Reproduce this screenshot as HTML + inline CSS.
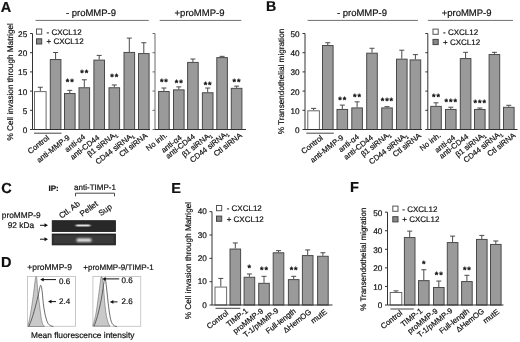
<!DOCTYPE html>
<html><head><meta charset="utf-8"><style>
html,body{margin:0;padding:0;background:#fff;}
svg{display:block;font-family:"Liberation Sans", sans-serif;will-change:transform;filter:blur(0.3px);}
text{stroke:#111;stroke-width:0.2px;text-rendering:geometricPrecision;}
</style></head><body>
<svg width="520" height="342" viewBox="0 0 520 342">
<rect width="520" height="342" fill="#fff"/>
<text x="0.8" y="11.6" font-size="14.5" text-anchor="start" font-weight="bold" fill="#111">A</text>
<line x1="32.5" y1="33.5" x2="32.5" y2="129.5" stroke="#333" stroke-width="1"/>
<line x1="30.0" y1="129.5" x2="32.5" y2="129.5" stroke="#333" stroke-width="1"/>
<text x="27.2" y="132.9" font-size="8.2" text-anchor="end" font-weight="normal" fill="#111">0</text>
<line x1="30.0" y1="110.3" x2="32.5" y2="110.3" stroke="#333" stroke-width="1"/>
<text x="27.2" y="113.7" font-size="8.2" text-anchor="end" font-weight="normal" fill="#111">5</text>
<line x1="30.0" y1="91.1" x2="32.5" y2="91.1" stroke="#333" stroke-width="1"/>
<text x="27.2" y="94.5" font-size="8.2" text-anchor="end" font-weight="normal" fill="#111">10</text>
<line x1="30.0" y1="71.9" x2="32.5" y2="71.9" stroke="#333" stroke-width="1"/>
<text x="27.2" y="75.3" font-size="8.2" text-anchor="end" font-weight="normal" fill="#111">15</text>
<line x1="30.0" y1="52.7" x2="32.5" y2="52.7" stroke="#333" stroke-width="1"/>
<text x="27.2" y="56.1" font-size="8.2" text-anchor="end" font-weight="normal" fill="#111">20</text>
<line x1="30.0" y1="33.5" x2="32.5" y2="33.5" stroke="#333" stroke-width="1"/>
<text x="27.2" y="36.9" font-size="8.2" text-anchor="end" font-weight="normal" fill="#111">25</text>
<text x="13.2" y="81.8" font-size="8.2" text-anchor="middle" font-weight="normal" fill="#111" transform="rotate(-90 13.2 81.8)">% Cell invasion through Matrigel</text>
<rect x="36.5" y="29.0" width="5.2" height="5.2" fill="#fff" stroke="#555" stroke-width="1"/>
<rect x="36.5" y="38.8" width="5.2" height="5.2" fill="#888" stroke="#444" stroke-width="1"/>
<text x="46.5" y="34.5" font-size="8" text-anchor="start" font-weight="normal" fill="#111">- CXCL12</text>
<text x="46.5" y="44.3" font-size="8" text-anchor="start" font-weight="normal" fill="#111">+ CXCL12</text>
<line x1="35.5" y1="20.4" x2="148.8" y2="20.4" stroke="#707070" stroke-width="1"/>
<line x1="159.7" y1="20.4" x2="241.3" y2="20.4" stroke="#707070" stroke-width="1"/>
<text x="91" y="15.8" font-size="9.5" text-anchor="middle" font-weight="normal" fill="#111">- proMMP-9</text>
<text x="199.5" y="15.8" font-size="9.5" text-anchor="middle" font-weight="normal" fill="#111">+proMMP-9</text>
<line x1="40.3" y1="87.26" x2="40.3" y2="91.1" stroke="#4a4a4a" stroke-width="1"/>
<line x1="37.8" y1="87.26" x2="42.8" y2="87.26" stroke="#4a4a4a" stroke-width="1"/>
<rect x="34.5" y="91.6" width="11.6" height="37.9" fill="#ffffff" stroke="#6a6a6a" stroke-width="1"/>
<line x1="55.6" y1="52.51" x2="55.6" y2="59.04" stroke="#4a4a4a" stroke-width="1"/>
<line x1="53.1" y1="52.51" x2="58.1" y2="52.51" stroke="#4a4a4a" stroke-width="1"/>
<rect x="50.3" y="59.54" width="10.6" height="69.96" fill="#9a9a9a" stroke="#4a4a4a" stroke-width="1"/>
<line x1="69.8" y1="90.33" x2="69.8" y2="93.02" stroke="#4a4a4a" stroke-width="1"/>
<line x1="67.3" y1="90.33" x2="72.3" y2="90.33" stroke="#4a4a4a" stroke-width="1"/>
<rect x="64.5" y="93.52" width="10.6" height="35.98" fill="#9a9a9a" stroke="#4a4a4a" stroke-width="1"/>
<text x="70.2" y="85.2" font-size="9" text-anchor="middle" font-weight="bold" fill="#111" letter-spacing="0.9">**</text>
<line x1="84.3" y1="79.77" x2="84.3" y2="87.26" stroke="#4a4a4a" stroke-width="1"/>
<line x1="81.8" y1="79.77" x2="86.8" y2="79.77" stroke="#4a4a4a" stroke-width="1"/>
<rect x="79.0" y="87.76" width="10.6" height="41.74" fill="#9a9a9a" stroke="#4a4a4a" stroke-width="1"/>
<text x="84.7" y="75.7" font-size="9" text-anchor="middle" font-weight="bold" fill="#111" letter-spacing="0.9">**</text>
<line x1="99.2" y1="55.39" x2="99.2" y2="59.61" stroke="#4a4a4a" stroke-width="1"/>
<line x1="96.7" y1="55.39" x2="101.7" y2="55.39" stroke="#4a4a4a" stroke-width="1"/>
<rect x="93.9" y="60.11" width="10.6" height="69.39" fill="#9a9a9a" stroke="#4a4a4a" stroke-width="1"/>
<line x1="114.3" y1="84.96" x2="114.3" y2="87.26" stroke="#4a4a4a" stroke-width="1"/>
<line x1="111.8" y1="84.96" x2="116.8" y2="84.96" stroke="#4a4a4a" stroke-width="1"/>
<rect x="109.0" y="87.76" width="10.6" height="41.74" fill="#9a9a9a" stroke="#4a4a4a" stroke-width="1"/>
<text x="114.7" y="80.2" font-size="9" text-anchor="middle" font-weight="bold" fill="#111" letter-spacing="0.9">**</text>
<line x1="129.3" y1="38.11" x2="129.3" y2="51.93" stroke="#4a4a4a" stroke-width="1"/>
<line x1="126.8" y1="38.11" x2="131.8" y2="38.11" stroke="#4a4a4a" stroke-width="1"/>
<rect x="124.0" y="52.43" width="10.6" height="77.07" fill="#9a9a9a" stroke="#4a4a4a" stroke-width="1"/>
<line x1="143.8" y1="42.72" x2="143.8" y2="53.08" stroke="#4a4a4a" stroke-width="1"/>
<line x1="141.3" y1="42.72" x2="146.3" y2="42.72" stroke="#4a4a4a" stroke-width="1"/>
<rect x="138.5" y="53.58" width="10.6" height="75.92" fill="#9a9a9a" stroke="#4a4a4a" stroke-width="1"/>
<line x1="32.5" y1="129.5" x2="150" y2="129.5" stroke="#333" stroke-width="1"/>
<line x1="155" y1="33.5" x2="155" y2="129.5" stroke="#6a6a6a" stroke-width="1"/>
<line x1="152.5" y1="129.5" x2="155" y2="129.5" stroke="#6a6a6a" stroke-width="1"/>
<line x1="152.5" y1="110.3" x2="155" y2="110.3" stroke="#6a6a6a" stroke-width="1"/>
<line x1="152.5" y1="91.1" x2="155" y2="91.1" stroke="#6a6a6a" stroke-width="1"/>
<line x1="152.5" y1="71.9" x2="155" y2="71.9" stroke="#6a6a6a" stroke-width="1"/>
<line x1="152.5" y1="52.7" x2="155" y2="52.7" stroke="#6a6a6a" stroke-width="1"/>
<line x1="152.5" y1="33.5" x2="155" y2="33.5" stroke="#6a6a6a" stroke-width="1"/>
<line x1="163.9" y1="88.03" x2="163.9" y2="90.98" stroke="#4a4a4a" stroke-width="1"/>
<line x1="161.4" y1="88.03" x2="166.4" y2="88.03" stroke="#4a4a4a" stroke-width="1"/>
<rect x="158.6" y="91.48" width="10.6" height="38.02" fill="#9a9a9a" stroke="#4a4a4a" stroke-width="1"/>
<text x="164.3" y="85.2" font-size="9" text-anchor="middle" font-weight="bold" fill="#111" letter-spacing="0.9">**</text>
<line x1="178.8" y1="86.88" x2="178.8" y2="89.37" stroke="#4a4a4a" stroke-width="1"/>
<line x1="176.3" y1="86.88" x2="181.3" y2="86.88" stroke="#4a4a4a" stroke-width="1"/>
<rect x="173.5" y="89.87" width="10.6" height="39.63" fill="#9a9a9a" stroke="#4a4a4a" stroke-width="1"/>
<text x="179.2" y="86.2" font-size="9" text-anchor="middle" font-weight="bold" fill="#111" letter-spacing="0.9">**</text>
<line x1="192.9" y1="59.04" x2="192.9" y2="61.92" stroke="#4a4a4a" stroke-width="1"/>
<line x1="190.4" y1="59.04" x2="195.4" y2="59.04" stroke="#4a4a4a" stroke-width="1"/>
<rect x="187.6" y="62.42" width="10.6" height="67.08" fill="#9a9a9a" stroke="#4a4a4a" stroke-width="1"/>
<line x1="207.7" y1="88.03" x2="207.7" y2="92.25" stroke="#4a4a4a" stroke-width="1"/>
<line x1="205.2" y1="88.03" x2="210.2" y2="88.03" stroke="#4a4a4a" stroke-width="1"/>
<rect x="202.4" y="92.75" width="10.6" height="36.75" fill="#9a9a9a" stroke="#4a4a4a" stroke-width="1"/>
<text x="208.1" y="87.7" font-size="9" text-anchor="middle" font-weight="bold" fill="#111" letter-spacing="0.9">**</text>
<line x1="222.1" y1="56.35" x2="222.1" y2="57.12" stroke="#4a4a4a" stroke-width="1"/>
<line x1="219.6" y1="56.35" x2="224.6" y2="56.35" stroke="#4a4a4a" stroke-width="1"/>
<rect x="216.8" y="57.62" width="10.6" height="71.88" fill="#9a9a9a" stroke="#4a4a4a" stroke-width="1"/>
<line x1="236.6" y1="86.11" x2="236.6" y2="87.84" stroke="#4a4a4a" stroke-width="1"/>
<line x1="234.1" y1="86.11" x2="239.1" y2="86.11" stroke="#4a4a4a" stroke-width="1"/>
<rect x="231.3" y="88.34" width="10.6" height="41.16" fill="#9a9a9a" stroke="#4a4a4a" stroke-width="1"/>
<text x="237" y="84.7" font-size="9" text-anchor="middle" font-weight="bold" fill="#111" letter-spacing="0.9">**</text>
<line x1="155" y1="129.5" x2="246" y2="129.5" stroke="#333" stroke-width="1"/>
<line x1="34" y1="133.2" x2="61.5" y2="133.2" stroke="#444" stroke-width="1"/>
<text x="49.8" y="138.9" font-size="7.7" text-anchor="end" font-weight="normal" fill="#111" transform="rotate(-38 49.8 138.9)">Control</text>
<text x="70.5" y="138.5" font-size="7.7" text-anchor="end" font-weight="normal" fill="#111" transform="rotate(-38 70.5 138.5)">anti-MMP-9</text>
<text x="86.0" y="137.8" font-size="7.7" text-anchor="end" font-weight="normal" fill="#111" transform="rotate(-38 86.0 137.8)">anti-α4</text>
<text x="100" y="138.6" font-size="7.7" text-anchor="end" font-weight="normal" fill="#111" transform="rotate(-38 100 138.6)">anti-CD44</text>
<text x="117.7" y="135.2" font-size="7.7" text-anchor="end" font-weight="normal" fill="#111" transform="rotate(-38 117.7 135.2)">β1 siRNA<tspan font-size="5" dy="1.6">1</tspan></text>
<text x="134.5" y="136.2" font-size="7.7" text-anchor="end" font-weight="normal" fill="#111" transform="rotate(-38 134.5 136.2)">CD44 siRNA<tspan font-size="5" dy="1.6">1</tspan></text>
<text x="148" y="136.7" font-size="7.7" text-anchor="end" font-weight="normal" fill="#111" transform="rotate(-38 148 136.7)">Ctl siRNA</text>
<text x="167.8" y="136.2" font-size="7.7" text-anchor="end" font-weight="normal" fill="#111" transform="rotate(-38 167.8 136.2)">No inh.</text>
<text x="182.3" y="138.5" font-size="7.7" text-anchor="end" font-weight="normal" fill="#111" transform="rotate(-38 182.3 138.5)">anti-α4</text>
<text x="195.5" y="137.6" font-size="7.7" text-anchor="end" font-weight="normal" fill="#111" transform="rotate(-38 195.5 137.6)">anti-CD44</text>
<text x="212.3" y="135.7" font-size="7.7" text-anchor="end" font-weight="normal" fill="#111" transform="rotate(-38 212.3 135.7)">β1 siRNA<tspan font-size="5" dy="1.6">1</tspan></text>
<text x="229" y="134.4" font-size="7.7" text-anchor="end" font-weight="normal" fill="#111" transform="rotate(-38 229 134.4)">CD44 siRNA<tspan font-size="5" dy="1.6">1</tspan></text>
<text x="242.5" y="136.3" font-size="7.7" text-anchor="end" font-weight="normal" fill="#111" transform="rotate(-38 242.5 136.3)">Ctl siRNA</text>
<text x="266.1" y="10.7" font-size="14.2" text-anchor="start" font-weight="bold" fill="#111">B</text>
<line x1="305" y1="33.5" x2="305" y2="129.5" stroke="#333" stroke-width="1"/>
<line x1="302.5" y1="129.5" x2="305" y2="129.5" stroke="#333" stroke-width="1"/>
<text x="299.5" y="132.9" font-size="8.2" text-anchor="end" font-weight="normal" fill="#111">0</text>
<line x1="302.5" y1="110.3" x2="305" y2="110.3" stroke="#333" stroke-width="1"/>
<text x="299.5" y="113.7" font-size="8.2" text-anchor="end" font-weight="normal" fill="#111">10</text>
<line x1="302.5" y1="91.1" x2="305" y2="91.1" stroke="#333" stroke-width="1"/>
<text x="299.5" y="94.5" font-size="8.2" text-anchor="end" font-weight="normal" fill="#111">20</text>
<line x1="302.5" y1="71.9" x2="305" y2="71.9" stroke="#333" stroke-width="1"/>
<text x="299.5" y="75.3" font-size="8.2" text-anchor="end" font-weight="normal" fill="#111">30</text>
<line x1="302.5" y1="52.7" x2="305" y2="52.7" stroke="#333" stroke-width="1"/>
<text x="299.5" y="56.1" font-size="8.2" text-anchor="end" font-weight="normal" fill="#111">40</text>
<line x1="302.5" y1="33.5" x2="305" y2="33.5" stroke="#333" stroke-width="1"/>
<text x="299.5" y="36.9" font-size="8.2" text-anchor="end" font-weight="normal" fill="#111">50</text>
<text x="283.9" y="81.5" font-size="8.2" text-anchor="middle" font-weight="normal" fill="#111" transform="rotate(-90 283.9 81.5)">% Transendothelial migration</text>
<line x1="307.6" y1="20.4" x2="417.9" y2="20.4" stroke="#707070" stroke-width="1"/>
<line x1="427.8" y1="20.4" x2="513" y2="20.4" stroke="#707070" stroke-width="1"/>
<text x="362" y="15.8" font-size="9.5" text-anchor="middle" font-weight="normal" fill="#111">- proMMP-9</text>
<text x="466.6" y="15.8" font-size="9.5" text-anchor="middle" font-weight="normal" fill="#111">+proMMP-9</text>
<rect x="433.0" y="29.1" width="5.2" height="5.2" fill="#fff" stroke="#555" stroke-width="1"/>
<rect x="433.0" y="39.4" width="5.2" height="5.2" fill="#888" stroke="#444" stroke-width="1"/>
<text x="443" y="34.6" font-size="8" text-anchor="start" font-weight="normal" fill="#111">- CXCL12</text>
<text x="443" y="44.9" font-size="8" text-anchor="start" font-weight="normal" fill="#111">+ CXCL12</text>
<line x1="313.6" y1="108.38" x2="313.6" y2="110.3" stroke="#4a4a4a" stroke-width="1"/>
<line x1="311.1" y1="108.38" x2="316.1" y2="108.38" stroke="#4a4a4a" stroke-width="1"/>
<rect x="307.8" y="110.8" width="11.6" height="18.7" fill="#ffffff" stroke="#6a6a6a" stroke-width="1"/>
<line x1="327.8" y1="42.72" x2="327.8" y2="45.02" stroke="#4a4a4a" stroke-width="1"/>
<line x1="325.3" y1="42.72" x2="330.3" y2="42.72" stroke="#4a4a4a" stroke-width="1"/>
<rect x="322.5" y="45.52" width="10.6" height="83.98" fill="#9a9a9a" stroke="#4a4a4a" stroke-width="1"/>
<line x1="342.3" y1="105.12" x2="342.3" y2="108.96" stroke="#4a4a4a" stroke-width="1"/>
<line x1="339.8" y1="105.12" x2="344.8" y2="105.12" stroke="#4a4a4a" stroke-width="1"/>
<rect x="337.0" y="109.46" width="10.6" height="20.04" fill="#9a9a9a" stroke="#4a4a4a" stroke-width="1"/>
<text x="342.7" y="103.2" font-size="9" text-anchor="middle" font-weight="bold" fill="#111" letter-spacing="0.9">**</text>
<line x1="357.1" y1="101.85" x2="357.1" y2="107.42" stroke="#4a4a4a" stroke-width="1"/>
<line x1="354.6" y1="101.85" x2="359.6" y2="101.85" stroke="#4a4a4a" stroke-width="1"/>
<rect x="351.8" y="107.92" width="10.6" height="21.58" fill="#9a9a9a" stroke="#4a4a4a" stroke-width="1"/>
<text x="357.5" y="99.7" font-size="9" text-anchor="middle" font-weight="bold" fill="#111" letter-spacing="0.9">**</text>
<line x1="372.0" y1="48.28" x2="372.0" y2="52.7" stroke="#4a4a4a" stroke-width="1"/>
<line x1="369.5" y1="48.28" x2="374.5" y2="48.28" stroke="#4a4a4a" stroke-width="1"/>
<rect x="366.7" y="53.2" width="10.6" height="76.3" fill="#9a9a9a" stroke="#4a4a4a" stroke-width="1"/>
<line x1="387.0" y1="106.65" x2="387.0" y2="107.42" stroke="#4a4a4a" stroke-width="1"/>
<line x1="384.5" y1="106.65" x2="389.5" y2="106.65" stroke="#4a4a4a" stroke-width="1"/>
<rect x="381.7" y="107.92" width="10.6" height="21.58" fill="#9a9a9a" stroke="#4a4a4a" stroke-width="1"/>
<text x="387.4" y="104.2" font-size="9" text-anchor="middle" font-weight="bold" fill="#111" letter-spacing="0.9">***</text>
<line x1="401.8" y1="50.2" x2="401.8" y2="58.65" stroke="#4a4a4a" stroke-width="1"/>
<line x1="399.3" y1="50.2" x2="404.3" y2="50.2" stroke="#4a4a4a" stroke-width="1"/>
<rect x="396.5" y="59.15" width="10.6" height="70.35" fill="#9a9a9a" stroke="#4a4a4a" stroke-width="1"/>
<line x1="415.4" y1="54.62" x2="415.4" y2="59.42" stroke="#4a4a4a" stroke-width="1"/>
<line x1="412.9" y1="54.62" x2="417.9" y2="54.62" stroke="#4a4a4a" stroke-width="1"/>
<rect x="410.1" y="59.92" width="10.6" height="69.58" fill="#9a9a9a" stroke="#4a4a4a" stroke-width="1"/>
<line x1="305" y1="129.5" x2="422" y2="129.5" stroke="#333" stroke-width="1"/>
<line x1="427.8" y1="33.5" x2="427.8" y2="129.5" stroke="#333" stroke-width="1"/>
<line x1="425.3" y1="129.5" x2="427.8" y2="129.5" stroke="#333" stroke-width="1"/>
<line x1="425.3" y1="110.3" x2="427.8" y2="110.3" stroke="#333" stroke-width="1"/>
<line x1="425.3" y1="91.1" x2="427.8" y2="91.1" stroke="#333" stroke-width="1"/>
<line x1="425.3" y1="71.9" x2="427.8" y2="71.9" stroke="#333" stroke-width="1"/>
<line x1="425.3" y1="52.7" x2="427.8" y2="52.7" stroke="#333" stroke-width="1"/>
<line x1="425.3" y1="33.5" x2="427.8" y2="33.5" stroke="#333" stroke-width="1"/>
<line x1="436.0" y1="102.81" x2="436.0" y2="105.88" stroke="#4a4a4a" stroke-width="1"/>
<line x1="433.5" y1="102.81" x2="438.5" y2="102.81" stroke="#4a4a4a" stroke-width="1"/>
<rect x="430.7" y="106.38" width="10.6" height="23.12" fill="#9a9a9a" stroke="#4a4a4a" stroke-width="1"/>
<text x="436.4" y="100.2" font-size="9" text-anchor="middle" font-weight="bold" fill="#111" letter-spacing="0.9">**</text>
<line x1="450.8" y1="107.23" x2="450.8" y2="108.96" stroke="#4a4a4a" stroke-width="1"/>
<line x1="448.3" y1="107.23" x2="453.3" y2="107.23" stroke="#4a4a4a" stroke-width="1"/>
<rect x="445.5" y="109.46" width="10.6" height="20.04" fill="#9a9a9a" stroke="#4a4a4a" stroke-width="1"/>
<text x="451.2" y="105.2" font-size="9" text-anchor="middle" font-weight="bold" fill="#111" letter-spacing="0.9">***</text>
<line x1="465.6" y1="52.32" x2="465.6" y2="58.08" stroke="#4a4a4a" stroke-width="1"/>
<line x1="463.1" y1="52.32" x2="468.1" y2="52.32" stroke="#4a4a4a" stroke-width="1"/>
<rect x="460.3" y="58.58" width="10.6" height="70.92" fill="#9a9a9a" stroke="#4a4a4a" stroke-width="1"/>
<line x1="479.8" y1="108" x2="479.8" y2="108.96" stroke="#4a4a4a" stroke-width="1"/>
<line x1="477.3" y1="108" x2="482.3" y2="108" stroke="#4a4a4a" stroke-width="1"/>
<rect x="474.5" y="109.46" width="10.6" height="20.04" fill="#9a9a9a" stroke="#4a4a4a" stroke-width="1"/>
<text x="480.2" y="106.2" font-size="9" text-anchor="middle" font-weight="bold" fill="#111" letter-spacing="0.9">***</text>
<line x1="494.4" y1="52.32" x2="494.4" y2="54.04" stroke="#4a4a4a" stroke-width="1"/>
<line x1="491.9" y1="52.32" x2="496.9" y2="52.32" stroke="#4a4a4a" stroke-width="1"/>
<rect x="489.1" y="54.54" width="10.6" height="74.96" fill="#9a9a9a" stroke="#4a4a4a" stroke-width="1"/>
<line x1="508.8" y1="105.31" x2="508.8" y2="106.84" stroke="#4a4a4a" stroke-width="1"/>
<line x1="506.3" y1="105.31" x2="511.3" y2="105.31" stroke="#4a4a4a" stroke-width="1"/>
<rect x="503.5" y="107.34" width="10.6" height="22.16" fill="#9a9a9a" stroke="#4a4a4a" stroke-width="1"/>
<line x1="427.8" y1="129.5" x2="517.5" y2="129.5" stroke="#333" stroke-width="1"/>
<line x1="306.3" y1="133.2" x2="333.8" y2="133.2" stroke="#444" stroke-width="1"/>
<text x="323.4" y="138.9" font-size="7.7" text-anchor="end" font-weight="normal" fill="#111" transform="rotate(-38 323.4 138.9)">Control</text>
<text x="344.1" y="138.5" font-size="7.7" text-anchor="end" font-weight="normal" fill="#111" transform="rotate(-38 344.1 138.5)">anti-MMP-9</text>
<text x="359.6" y="137.8" font-size="7.7" text-anchor="end" font-weight="normal" fill="#111" transform="rotate(-38 359.6 137.8)">anti-α4</text>
<text x="373.6" y="138.6" font-size="7.7" text-anchor="end" font-weight="normal" fill="#111" transform="rotate(-38 373.6 138.6)">anti-CD44</text>
<text x="391.3" y="135.2" font-size="7.7" text-anchor="end" font-weight="normal" fill="#111" transform="rotate(-38 391.3 135.2)">β1 siRNA<tspan font-size="5" dy="1.6">1</tspan></text>
<text x="408.1" y="136.2" font-size="7.7" text-anchor="end" font-weight="normal" fill="#111" transform="rotate(-38 408.1 136.2)">CD44 siRNA<tspan font-size="5" dy="1.6">1</tspan></text>
<text x="421.6" y="136.7" font-size="7.7" text-anchor="end" font-weight="normal" fill="#111" transform="rotate(-38 421.6 136.7)">Ctl siRNA</text>
<text x="441.4" y="136.2" font-size="7.7" text-anchor="end" font-weight="normal" fill="#111" transform="rotate(-38 441.4 136.2)">No inh.</text>
<text x="455.9" y="138.5" font-size="7.7" text-anchor="end" font-weight="normal" fill="#111" transform="rotate(-38 455.9 138.5)">anti-α4</text>
<text x="469.1" y="137.6" font-size="7.7" text-anchor="end" font-weight="normal" fill="#111" transform="rotate(-38 469.1 137.6)">anti-CD44</text>
<text x="485.9" y="135.7" font-size="7.7" text-anchor="end" font-weight="normal" fill="#111" transform="rotate(-38 485.9 135.7)">β1 siRNA<tspan font-size="5" dy="1.6">1</tspan></text>
<text x="502.6" y="134.4" font-size="7.7" text-anchor="end" font-weight="normal" fill="#111" transform="rotate(-38 502.6 134.4)">CD44 siRNA<tspan font-size="5" dy="1.6">1</tspan></text>
<text x="516.1" y="136.3" font-size="7.7" text-anchor="end" font-weight="normal" fill="#111" transform="rotate(-38 516.1 136.3)">Ctl siRNA</text>
<text x="1.2" y="193.2" font-size="14.5" text-anchor="start" font-weight="bold" fill="#111">C</text>
<text x="48.5" y="191.3" font-size="8" text-anchor="start" font-weight="bold" fill="#111">IP:</text>
<text x="95" y="190.1" font-size="8" text-anchor="middle" font-weight="normal" fill="#111">anti-TIMP-1</text>
<path d="M75.5,196.3 V193.2 H114.5 V196.3" fill="none" stroke="#333" stroke-width="0.9"/>
<text x="80.5" y="205" font-size="8" text-anchor="end" font-weight="normal" fill="#111" transform="rotate(-36 80.5 205)">Ctl. Ab</text>
<text x="98.5" y="205" font-size="8" text-anchor="end" font-weight="normal" fill="#111" transform="rotate(-36 98.5 205)">Pellet</text>
<text x="112.5" y="208" font-size="8" text-anchor="end" font-weight="normal" fill="#111" transform="rotate(-36 112.5 208)">Sup</text>
<text x="21.2" y="218.2" font-size="8.3" text-anchor="middle" font-weight="normal" fill="#111">proMMP-9</text>
<text x="20.9" y="227.9" font-size="8.3" text-anchor="middle" font-weight="normal" fill="#111">92 kDa</text>
<defs>
<filter id="bl1" x="-50%" y="-200%" width="200%" height="500%"><feGaussianBlur stdDeviation="0.9 0.6"/></filter>
<filter id="bl2" x="-50%" y="-200%" width="200%" height="500%"><feGaussianBlur stdDeviation="1.0 0.8"/></filter>
</defs>
<rect x="52.2" y="220.7" width="63.2" height="10.8" fill="#282828" stroke="#151515" stroke-width="0.8"/>
<rect x="75.8" y="224.5" width="14.5" height="1.9" rx="0.9" fill="#e2e2e2" filter="url(#bl1)"/>
<rect x="52.2" y="234.0" width="63.2" height="10.9" fill="#2e2e2e" stroke="#151515" stroke-width="0.8"/>
<rect x="54" y="235.5" width="59.5" height="7.8" fill="#3a3a3a"/>
<rect x="76.5" y="238.6" width="15" height="3.2" rx="1.5" fill="#f0f0f0" filter="url(#bl2)"/>
<line x1="40" y1="225.3" x2="46" y2="225.3" stroke="#111" stroke-width="1"/>
<path d="M48,225.3 L44.5,223.3 L44.5,227.3 Z" fill="#111"/>
<line x1="40" y1="239.2" x2="46" y2="239.2" stroke="#111" stroke-width="1"/>
<path d="M48,239.2 L44.5,237.2 L44.5,241.2 Z" fill="#111"/>
<text x="1" y="266.6" font-size="14.5" text-anchor="start" font-weight="bold" fill="#111">D</text>
<text x="49.6" y="270" font-size="8.5" text-anchor="middle" font-weight="normal" fill="#111">+proMMP-9</text>
<text x="118.5" y="269.5" font-size="8" text-anchor="middle" font-weight="normal" fill="#111">+proMMP-9/TIMP-1</text>
<rect x="27.5" y="276.5" width="48" height="49.8" fill="#fff" stroke="#c4c4c4" stroke-width="0.9"/>
<path d="M27.90,326.50 C28.33,324.40 29.62,318.93 30.50,313.90 C31.38,308.87 32.47,301.57 33.20,296.30 C33.93,291.03 34.47,285.52 34.90,282.30 C35.33,279.08 35.50,277.73 35.80,277.00 C36.10,276.27 36.42,276.15 36.70,277.90 C36.98,279.65 37.13,283.85 37.50,287.50 C37.87,291.15 38.45,295.98 38.90,299.80 C39.35,303.62 39.78,307.18 40.20,310.40 C40.62,313.62 40.97,316.77 41.40,319.10 C41.83,321.43 42.27,323.17 42.80,324.40 C43.33,325.63 44.30,326.15 44.60,326.50 Z" fill="#c9c9c9" stroke="#6a6a6a" stroke-width="0.6"/>
<path d="M28.80,326.50 C29.38,324.98 31.13,320.97 32.30,317.40 C33.47,313.83 34.78,308.90 35.80,305.10 C36.82,301.30 37.73,297.53 38.40,294.60 C39.07,291.67 39.42,289.03 39.80,287.50 C40.18,285.97 40.43,285.53 40.70,285.40 C40.97,285.27 41.13,285.47 41.40,286.70 C41.67,287.93 41.98,290.03 42.30,292.80 C42.62,295.57 42.92,300.08 43.30,303.30 C43.68,306.52 44.10,309.47 44.60,312.10 C45.10,314.73 45.72,317.20 46.30,319.10 C46.88,321.00 47.37,322.38 48.10,323.50 C48.83,324.62 49.83,325.30 50.70,325.80 C51.57,326.30 52.87,326.38 53.30,326.50" fill="none" stroke="#3a3a3a" stroke-width="0.75"/>
<rect x="92.9" y="276.5" width="47.8" height="49.8" fill="#fff" stroke="#c4c4c4" stroke-width="0.9"/>
<path d="M92.90,326.10 C93.40,324.07 94.97,318.87 95.90,313.90 C96.83,308.93 97.77,301.57 98.50,296.30 C99.23,291.03 99.85,285.52 100.30,282.30 C100.75,279.08 100.85,277.58 101.20,277.00 C101.55,276.42 101.97,276.47 102.40,278.80 C102.83,281.13 103.37,286.62 103.80,291.00 C104.23,295.38 104.57,301.00 105.00,305.10 C105.43,309.20 105.87,312.68 106.40,315.60 C106.93,318.52 107.60,320.85 108.20,322.60 C108.80,324.35 109.70,325.52 110.00,326.10 Z" fill="#c9c9c9" stroke="#6a6a6a" stroke-width="0.6"/>
<path d="M94.10,326.10 C94.68,324.35 96.42,319.98 97.60,315.60 C98.78,311.22 100.23,304.77 101.20,299.80 C102.17,294.83 102.82,289.30 103.40,285.80 C103.98,282.30 104.35,279.83 104.70,278.80 C105.05,277.77 105.13,277.57 105.50,279.60 C105.87,281.63 106.45,287.05 106.90,291.00 C107.35,294.95 107.70,299.20 108.20,303.30 C108.70,307.40 109.32,312.38 109.90,315.60 C110.48,318.82 110.97,320.90 111.70,322.60 C112.43,324.30 113.43,325.15 114.30,325.80 C115.17,326.45 116.47,326.38 116.90,326.50" fill="none" stroke="#3a3a3a" stroke-width="0.75"/>
<line x1="42.2" y1="279.6" x2="56" y2="279.6" stroke="#111" stroke-width="1"/>
<path d="M40.2,279.6 L43.7,277.8 L43.7,281.4 Z" fill="#111"/>
<text x="59" y="283.7" font-size="8" text-anchor="start" font-weight="normal" fill="#111">0.6</text>
<line x1="50" y1="301.6" x2="56" y2="301.6" stroke="#111" stroke-width="1"/>
<path d="M48,301.6 L51.5,299.8 L51.5,303.4 Z" fill="#111"/>
<text x="59" y="304.2" font-size="8" text-anchor="start" font-weight="normal" fill="#111">2.4</text>
<line x1="104.2" y1="278.9" x2="119.2" y2="278.9" stroke="#111" stroke-width="1"/>
<path d="M102.2,278.9 L105.7,277.1 L105.7,280.7 Z" fill="#111"/>
<text x="121.5" y="283.2" font-size="8" text-anchor="start" font-weight="normal" fill="#111">0.6</text>
<line x1="111.9" y1="301.9" x2="117.5" y2="301.9" stroke="#111" stroke-width="1"/>
<path d="M109.9,301.9 L113.4,300.1 L113.4,303.7 Z" fill="#111"/>
<text x="121.5" y="304.2" font-size="8" text-anchor="start" font-weight="normal" fill="#111">2.6</text>
<text x="82.7" y="338" font-size="8.35" text-anchor="middle" font-weight="normal" fill="#111">Mean fluorescence intensity</text>
<text x="171.3" y="192.5" font-size="14.5" text-anchor="start" font-weight="bold" fill="#111">E</text>
<line x1="212" y1="211.7" x2="212" y2="305" stroke="#333" stroke-width="1"/>
<line x1="209.5" y1="305.0" x2="212" y2="305.0" stroke="#333" stroke-width="1"/>
<text x="206.8" y="307.7" font-size="8.2" text-anchor="end" font-weight="normal" fill="#111">0</text>
<line x1="209.5" y1="281.68" x2="212" y2="281.68" stroke="#333" stroke-width="1"/>
<text x="206.8" y="284.38" font-size="8.2" text-anchor="end" font-weight="normal" fill="#111">10</text>
<line x1="209.5" y1="258.35" x2="212" y2="258.35" stroke="#333" stroke-width="1"/>
<text x="206.8" y="261.05" font-size="8.2" text-anchor="end" font-weight="normal" fill="#111">20</text>
<line x1="209.5" y1="235.02" x2="212" y2="235.02" stroke="#333" stroke-width="1"/>
<text x="206.8" y="237.72" font-size="8.2" text-anchor="end" font-weight="normal" fill="#111">30</text>
<line x1="209.5" y1="211.7" x2="212" y2="211.7" stroke="#333" stroke-width="1"/>
<text x="206.8" y="214.4" font-size="8.2" text-anchor="end" font-weight="normal" fill="#111">40</text>
<text x="191.3" y="260.6" font-size="8.2" text-anchor="middle" font-weight="normal" fill="#111" transform="rotate(-90 191.3 260.6)">% Cell invasion through Matrigel</text>
<rect x="216.5" y="205.5" width="5.2" height="5.2" fill="#fff" stroke="#555" stroke-width="1"/>
<rect x="216.5" y="216.1" width="5.2" height="5.2" fill="#888" stroke="#444" stroke-width="1"/>
<text x="226.7" y="211" font-size="8" text-anchor="start" font-weight="normal" fill="#111">- CXCL12</text>
<text x="226.7" y="221.6" font-size="8" text-anchor="start" font-weight="normal" fill="#111">+ CXCL12</text>
<line x1="220.8" y1="278.41" x2="220.8" y2="286.57" stroke="#4a4a4a" stroke-width="1"/>
<line x1="218.3" y1="278.41" x2="223.3" y2="278.41" stroke="#4a4a4a" stroke-width="1"/>
<rect x="215.0" y="287.07" width="11.6" height="17.93" fill="#ffffff" stroke="#6a6a6a" stroke-width="1"/>
<line x1="235.3" y1="242.96" x2="235.3" y2="248.55" stroke="#4a4a4a" stroke-width="1"/>
<line x1="232.8" y1="242.96" x2="237.8" y2="242.96" stroke="#4a4a4a" stroke-width="1"/>
<rect x="230.0" y="249.05" width="10.6" height="55.95" fill="#9a9a9a" stroke="#4a4a4a" stroke-width="1"/>
<line x1="249.4" y1="273.98" x2="249.4" y2="276.78" stroke="#4a4a4a" stroke-width="1"/>
<line x1="246.9" y1="273.98" x2="251.9" y2="273.98" stroke="#4a4a4a" stroke-width="1"/>
<rect x="244.1" y="277.28" width="10.6" height="27.72" fill="#9a9a9a" stroke="#4a4a4a" stroke-width="1"/>
<text x="249.8" y="271.2" font-size="9" text-anchor="middle" font-weight="bold" fill="#111" letter-spacing="0.9">*</text>
<line x1="264.0" y1="276.31" x2="264.0" y2="282.84" stroke="#4a4a4a" stroke-width="1"/>
<line x1="261.5" y1="276.31" x2="266.5" y2="276.31" stroke="#4a4a4a" stroke-width="1"/>
<rect x="258.7" y="283.34" width="10.6" height="21.66" fill="#9a9a9a" stroke="#4a4a4a" stroke-width="1"/>
<text x="264.4" y="273.2" font-size="9" text-anchor="middle" font-weight="bold" fill="#111" letter-spacing="0.9">**</text>
<line x1="278.5" y1="250.65" x2="278.5" y2="252.29" stroke="#4a4a4a" stroke-width="1"/>
<line x1="276.0" y1="250.65" x2="281.0" y2="250.65" stroke="#4a4a4a" stroke-width="1"/>
<rect x="273.2" y="252.79" width="10.6" height="52.21" fill="#9a9a9a" stroke="#4a4a4a" stroke-width="1"/>
<line x1="293.7" y1="276.31" x2="293.7" y2="279.11" stroke="#4a4a4a" stroke-width="1"/>
<line x1="291.2" y1="276.31" x2="296.2" y2="276.31" stroke="#4a4a4a" stroke-width="1"/>
<rect x="288.4" y="279.61" width="10.6" height="25.39" fill="#9a9a9a" stroke="#4a4a4a" stroke-width="1"/>
<text x="294.1" y="272.7" font-size="9" text-anchor="middle" font-weight="bold" fill="#111" letter-spacing="0.9">**</text>
<line x1="307.7" y1="249.95" x2="307.7" y2="255.08" stroke="#4a4a4a" stroke-width="1"/>
<line x1="305.2" y1="249.95" x2="310.2" y2="249.95" stroke="#4a4a4a" stroke-width="1"/>
<rect x="302.4" y="255.58" width="10.6" height="49.42" fill="#9a9a9a" stroke="#4a4a4a" stroke-width="1"/>
<line x1="322.9" y1="252.75" x2="322.9" y2="255.78" stroke="#4a4a4a" stroke-width="1"/>
<line x1="320.4" y1="252.75" x2="325.4" y2="252.75" stroke="#4a4a4a" stroke-width="1"/>
<rect x="317.6" y="256.28" width="10.6" height="48.72" fill="#9a9a9a" stroke="#4a4a4a" stroke-width="1"/>
<line x1="212" y1="305" x2="332.5" y2="305" stroke="#333" stroke-width="1"/>
<line x1="215.5" y1="308.3" x2="240.4" y2="308.3" stroke="#444" stroke-width="1"/>
<text x="228.9" y="314.0" font-size="7.7" text-anchor="end" font-weight="normal" fill="#111" transform="rotate(-38 228.9 314.0)">Control</text>
<text x="248.5" y="311.8" font-size="7.7" text-anchor="end" font-weight="normal" fill="#111" transform="rotate(-38 248.5 311.8)">TIMP-1</text>
<text x="263.8" y="312.0" font-size="7.7" text-anchor="end" font-weight="normal" fill="#111" transform="rotate(-38 263.8 312.0)">proMMP-9</text>
<text x="279.2" y="311.7" font-size="7.7" text-anchor="end" font-weight="normal" fill="#111" transform="rotate(-38 279.2 311.7)">T-1/pMMP-9</text>
<text x="296.5" y="312.0" font-size="7.7" text-anchor="end" font-weight="normal" fill="#111" transform="rotate(-38 296.5 312.0)">Full-length</text>
<text x="312.0" y="312.8" font-size="7.7" text-anchor="end" font-weight="normal" fill="#111" transform="rotate(-38 312.0 312.8)">ΔHemOG</text>
<text x="327.5" y="312.8" font-size="7.7" text-anchor="end" font-weight="normal" fill="#111" transform="rotate(-38 327.5 312.8)">mutE</text>
<text x="350" y="192.4" font-size="14.5" text-anchor="start" font-weight="bold" fill="#111">F</text>
<line x1="387.5" y1="212.2" x2="387.5" y2="305" stroke="#333" stroke-width="1"/>
<line x1="385.0" y1="305.0" x2="387.5" y2="305.0" stroke="#333" stroke-width="1"/>
<text x="382.3" y="308.4" font-size="8.2" text-anchor="end" font-weight="normal" fill="#111">0</text>
<line x1="385.0" y1="286.44" x2="387.5" y2="286.44" stroke="#333" stroke-width="1"/>
<text x="382.3" y="289.84" font-size="8.2" text-anchor="end" font-weight="normal" fill="#111">10</text>
<line x1="385.0" y1="267.88" x2="387.5" y2="267.88" stroke="#333" stroke-width="1"/>
<text x="382.3" y="271.28" font-size="8.2" text-anchor="end" font-weight="normal" fill="#111">20</text>
<line x1="385.0" y1="249.32" x2="387.5" y2="249.32" stroke="#333" stroke-width="1"/>
<text x="382.3" y="252.72" font-size="8.2" text-anchor="end" font-weight="normal" fill="#111">30</text>
<line x1="385.0" y1="230.76" x2="387.5" y2="230.76" stroke="#333" stroke-width="1"/>
<text x="382.3" y="234.16" font-size="8.2" text-anchor="end" font-weight="normal" fill="#111">40</text>
<line x1="385.0" y1="212.2" x2="387.5" y2="212.2" stroke="#333" stroke-width="1"/>
<text x="382.3" y="215.6" font-size="8.2" text-anchor="end" font-weight="normal" fill="#111">50</text>
<text x="366.2" y="259.2" font-size="8" text-anchor="middle" font-weight="normal" fill="#111" transform="rotate(-90 366.2 259.2)">% Transendothelial migration</text>
<rect x="392.8" y="206.1" width="5.2" height="5.2" fill="#fff" stroke="#555" stroke-width="1"/>
<rect x="392.8" y="216.7" width="5.2" height="5.2" fill="#888" stroke="#444" stroke-width="1"/>
<text x="402.3" y="211.6" font-size="8" text-anchor="start" font-weight="normal" fill="#111">- CXCL12</text>
<text x="402.3" y="222.2" font-size="8" text-anchor="start" font-weight="normal" fill="#111">+ CXCL12</text>
<line x1="396.0" y1="290.89" x2="396.0" y2="292.01" stroke="#4a4a4a" stroke-width="1"/>
<line x1="393.5" y1="290.89" x2="398.5" y2="290.89" stroke="#4a4a4a" stroke-width="1"/>
<rect x="390.2" y="292.51" width="11.6" height="12.49" fill="#ffffff" stroke="#6a6a6a" stroke-width="1"/>
<line x1="409.7" y1="231.13" x2="409.7" y2="237.07" stroke="#4a4a4a" stroke-width="1"/>
<line x1="407.2" y1="231.13" x2="412.2" y2="231.13" stroke="#4a4a4a" stroke-width="1"/>
<rect x="404.4" y="237.57" width="10.6" height="67.43" fill="#9a9a9a" stroke="#4a4a4a" stroke-width="1"/>
<line x1="423.8" y1="269.74" x2="423.8" y2="280.13" stroke="#4a4a4a" stroke-width="1"/>
<line x1="421.3" y1="269.74" x2="426.3" y2="269.74" stroke="#4a4a4a" stroke-width="1"/>
<rect x="418.5" y="280.63" width="10.6" height="24.37" fill="#9a9a9a" stroke="#4a4a4a" stroke-width="1"/>
<text x="424.2" y="267.2" font-size="9" text-anchor="middle" font-weight="bold" fill="#111" letter-spacing="0.9">*</text>
<line x1="438.8" y1="281.06" x2="438.8" y2="287" stroke="#4a4a4a" stroke-width="1"/>
<line x1="436.3" y1="281.06" x2="441.3" y2="281.06" stroke="#4a4a4a" stroke-width="1"/>
<rect x="433.5" y="287.5" width="10.6" height="17.5" fill="#9a9a9a" stroke="#4a4a4a" stroke-width="1"/>
<text x="439.2" y="278.2" font-size="9" text-anchor="middle" font-weight="bold" fill="#111" letter-spacing="0.9">**</text>
<line x1="452.6" y1="236.14" x2="452.6" y2="242.08" stroke="#4a4a4a" stroke-width="1"/>
<line x1="450.1" y1="236.14" x2="455.1" y2="236.14" stroke="#4a4a4a" stroke-width="1"/>
<rect x="447.3" y="242.58" width="10.6" height="62.42" fill="#9a9a9a" stroke="#4a4a4a" stroke-width="1"/>
<line x1="466.9" y1="275.3" x2="466.9" y2="281.06" stroke="#4a4a4a" stroke-width="1"/>
<line x1="464.4" y1="275.3" x2="469.4" y2="275.3" stroke="#4a4a4a" stroke-width="1"/>
<rect x="461.6" y="281.56" width="10.6" height="23.44" fill="#9a9a9a" stroke="#4a4a4a" stroke-width="1"/>
<text x="467.3" y="272.7" font-size="9" text-anchor="middle" font-weight="bold" fill="#111" letter-spacing="0.9">**</text>
<line x1="481.8" y1="235.4" x2="481.8" y2="238.93" stroke="#4a4a4a" stroke-width="1"/>
<line x1="479.3" y1="235.4" x2="484.3" y2="235.4" stroke="#4a4a4a" stroke-width="1"/>
<rect x="476.5" y="239.43" width="10.6" height="65.57" fill="#9a9a9a" stroke="#4a4a4a" stroke-width="1"/>
<line x1="495.8" y1="240.97" x2="495.8" y2="243.94" stroke="#4a4a4a" stroke-width="1"/>
<line x1="493.3" y1="240.97" x2="498.3" y2="240.97" stroke="#4a4a4a" stroke-width="1"/>
<rect x="490.5" y="244.44" width="10.6" height="60.56" fill="#9a9a9a" stroke="#4a4a4a" stroke-width="1"/>
<line x1="387.5" y1="305" x2="503.5" y2="305" stroke="#333" stroke-width="1"/>
<line x1="390.4" y1="309" x2="413.8" y2="309" stroke="#444" stroke-width="1"/>
<text x="402.9" y="314.0" font-size="7.7" text-anchor="end" font-weight="normal" fill="#111" transform="rotate(-38 402.9 314.0)">Control</text>
<text x="423" y="311.8" font-size="7.7" text-anchor="end" font-weight="normal" fill="#111" transform="rotate(-38 423 311.8)">TIMP-1</text>
<text x="438.3" y="312.0" font-size="7.7" text-anchor="end" font-weight="normal" fill="#111" transform="rotate(-38 438.3 312.0)">proMMP-9</text>
<text x="453.2" y="311.7" font-size="7.7" text-anchor="end" font-weight="normal" fill="#111" transform="rotate(-38 453.2 311.7)">T-1/pMMP-9</text>
<text x="470" y="312.0" font-size="7.7" text-anchor="end" font-weight="normal" fill="#111" transform="rotate(-38 470 312.0)">Full-length</text>
<text x="484.8" y="312.0" font-size="7.7" text-anchor="end" font-weight="normal" fill="#111" transform="rotate(-38 484.8 312.0)">ΔHemOG</text>
<text x="499.7" y="312.8" font-size="7.7" text-anchor="end" font-weight="normal" fill="#111" transform="rotate(-38 499.7 312.8)">mutE</text>
</svg>
</body></html>
